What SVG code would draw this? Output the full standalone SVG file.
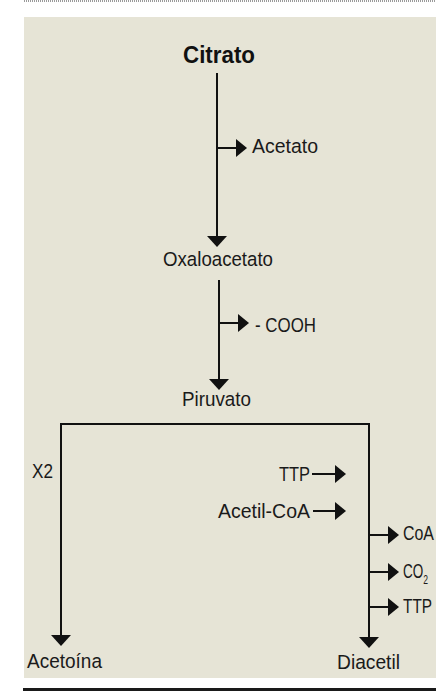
<svg xmlns="http://www.w3.org/2000/svg" width="436" height="694" viewBox="0 0 436 694">
<style>
.t{font-family:"Liberation Sans",Arial,sans-serif;font-size:20.5px;fill:#1a1a1a}
.b{font-family:"Liberation Sans",Arial,sans-serif;font-size:24px;font-weight:bold;fill:#111}
.c{fill:none;stroke:#111;stroke-width:2}
</style>
<defs>
<marker id="ad" markerUnits="userSpaceOnUse" orient="auto" markerWidth="12" markerHeight="20" refX="5" refY="10" viewBox="0 0 12 20"><path d="M0,0 L11,10 L0,20 Z" fill="#111"/></marker>
<marker id="ar" markerUnits="userSpaceOnUse" orient="auto" markerWidth="12" markerHeight="18" refX="5" refY="9" viewBox="0 0 12 18"><path d="M0,0 L11,9 L0,18 Z" fill="#111"/></marker>
</defs>
<line x1="24" y1="1" x2="436" y2="1" stroke="#9a9a9a" stroke-width="2" stroke-dasharray="1,1"/>
<rect x="24" y="17" width="412" height="661" fill="#e6e4d6"/>
<rect x="23" y="688" width="413" height="3" fill="#1a1a1a"/>
<g id="connectors">
<path class="c" d="M217,73 V241" marker-end="url(#ad)"/>
<path class="c" d="M217,148 H241" marker-end="url(#ar)"/>
<path class="c" d="M219,280 V384" marker-end="url(#ad)"/>
<path class="c" d="M219,323 H243" marker-end="url(#ar)"/>
<path class="c" d="M215,424 H61 V640" marker-end="url(#ad)"/>
<path class="c" d="M214,424 H369 V642" marker-end="url(#ad)"/>
<path class="c" d="M312,474 H340" marker-end="url(#ar)"/>
<path class="c" d="M313,511 H340" marker-end="url(#ar)"/>
<path class="c" d="M369,535 H393" marker-end="url(#ar)"/>
<path class="c" d="M369,572 H393" marker-end="url(#ar)"/>
<path class="c" d="M369,607 H393" marker-end="url(#ar)"/>
</g>
<g id="citrato"><text class="b" x="183" y="63" textLength="72" lengthAdjust="spacingAndGlyphs">Citrato</text></g>
<g id="acetato"><text class="t" x="252" y="153" textLength="66" lengthAdjust="spacingAndGlyphs">Acetato</text></g>
<g id="oxaloacetato"><text class="t" x="163" y="266" textLength="110" lengthAdjust="spacingAndGlyphs">Oxaloacetato</text></g>
<g id="cooh"><text class="t" x="255" y="332" textLength="61" lengthAdjust="spacingAndGlyphs">- COOH</text></g>
<g id="piruvato"><text class="t" x="182" y="406" textLength="69" lengthAdjust="spacingAndGlyphs">Piruvato</text></g>
<g id="x2"><text class="t" x="32" y="478" textLength="21" lengthAdjust="spacingAndGlyphs">X2</text></g>
<g id="acetoina"><text class="t" x="27" y="668" textLength="75" lengthAdjust="spacingAndGlyphs">Acetoína</text></g>
<g id="ttp-in"><text class="t" x="279" y="481" textLength="31" lengthAdjust="spacingAndGlyphs">TTP</text></g>
<g id="acetilcoa"><text class="t" x="218" y="518" textLength="92" lengthAdjust="spacingAndGlyphs">Acetil-CoA</text></g>
<g id="coa"><text class="t" x="403" y="540" textLength="31" lengthAdjust="spacingAndGlyphs">CoA</text></g>
<g id="co2"><text class="t" transform="translate(403,578) scale(0.66,1)">CO<tspan dy="6" style="font-size:13px">2</tspan></text></g>
<g id="ttp-out"><text class="t" x="403" y="613" textLength="29" lengthAdjust="spacingAndGlyphs">TTP</text></g>
<g id="diacetil"><text class="t" x="337" y="669" textLength="63" lengthAdjust="spacingAndGlyphs">Diacetil</text></g>
</svg>
